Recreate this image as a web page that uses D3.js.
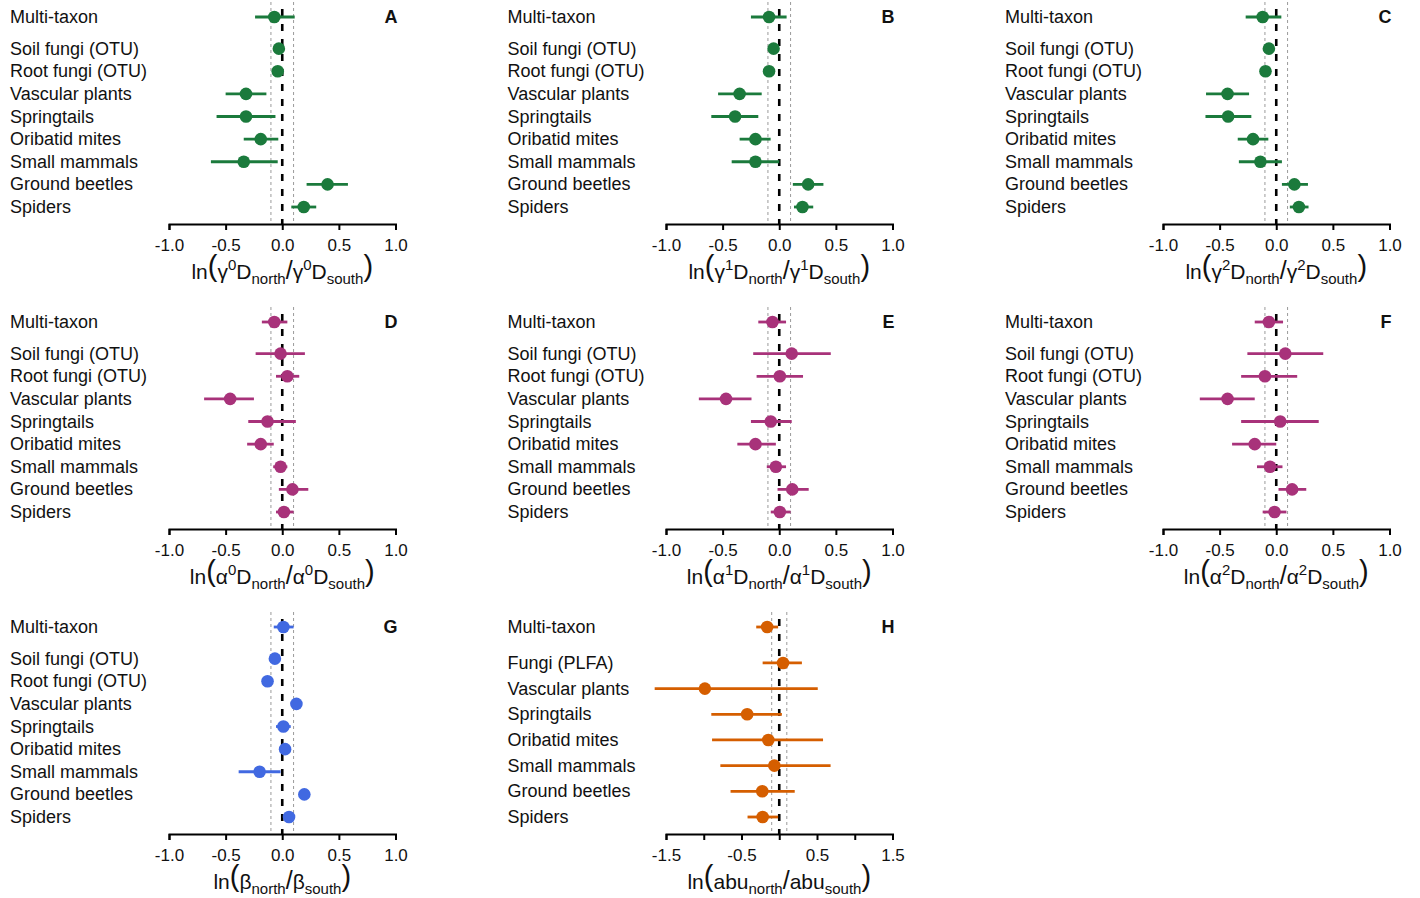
<!DOCTYPE html>
<html>
<head>
<meta charset="utf-8">
<script src="https://cdn.jsdelivr.net/npm/d3@7"></script>
<style>
  body { margin: 0; background: #fff; }
  svg { font-family: "Liberation Sans", Arial, sans-serif; }
</style>
</head>
<body>
<div id="chart"></div>
<script>
// taxa (rows, top to bottom)
const taxa = ["Multi-taxon", "Soil fungi (OTU)", "Root fungi (OTU)", "Vascular plants", "Springtails",
  "Oribatid mites", "Small mammals", "Ground beetles", "Spiders"];
const taxaAbu = ["Multi-taxon", "Fungi (PLFA)", "Vascular plants", "Springtails", "Oribatid mites",
  "Small mammals", "Ground beetles", "Spiders"];

// A: gamma 0
const g0Est = [-0.07, -0.03, -0.04, -0.32, -0.32, -0.19, -0.34, 0.40, 0.19];
const g0Lo  = [-0.24, -0.05, -0.06, -0.50, -0.58, -0.34, -0.63, 0.215, 0.08];
const g0Hi  = [0.11, -0.01, -0.02, -0.14, -0.06, -0.035, -0.04, 0.58, 0.30];
// B: gamma 1
const g1Est = [-0.09, -0.05, -0.09, -0.35, -0.39, -0.21, -0.21, 0.255, 0.205];
const g1Lo  = [-0.25, -0.07, -0.11, -0.54, -0.60, -0.35, -0.42, 0.12, 0.13];
const g1Hi  = [0.065, -0.03, -0.07, -0.155, -0.185, -0.076, 0.0, 0.39, 0.30];
// C: gamma 2
const g2Est = [-0.12, -0.065, -0.095, -0.43, -0.425, -0.205, -0.14, 0.16, 0.20];
const g2Lo  = [-0.27, -0.085, -0.115, -0.62, -0.625, -0.34, -0.33, 0.05, 0.12];
const g2Hi  = [0.045, -0.045, -0.075, -0.24, -0.22, -0.07, 0.05, 0.28, 0.285];
// D: alpha 0
const a0Est = [-0.07, -0.015, 0.045, -0.46, -0.13, -0.19, -0.015, 0.09, 0.015];
const a0Lo  = [-0.18, -0.235, -0.055, -0.69, -0.30, -0.31, -0.08, -0.03, -0.055];
const a0Hi  = [0.045, 0.20, 0.15, -0.25, 0.12, -0.075, 0.045, 0.23, 0.10];
// E: alpha 1
const a1Est = [-0.06, 0.11, 0.005, -0.47, -0.075, -0.21, -0.03, 0.115, 0.005];
const a1Lo  = [-0.185, -0.23, -0.20, -0.71, -0.25, -0.37, -0.11, -0.015, -0.075];
const a1Hi  = [0.06, 0.455, 0.21, -0.245, 0.11, -0.03, 0.06, 0.26, 0.10];
// F: alpha 2
const a2Est = [-0.065, 0.08, -0.10, -0.43, 0.035, -0.19, -0.055, 0.14, -0.015];
const a2Lo  = [-0.19, -0.255, -0.31, -0.675, -0.31, -0.39, -0.17, 0.02, -0.12];
const a2Hi  = [0.06, 0.415, 0.185, -0.19, 0.375, 0.0, 0.055, 0.265, 0.09];
// G: beta
const bEst = [0.01, -0.065, -0.13, 0.125, 0.01, 0.025, -0.20, 0.195, 0.06];
const bLo  = [-0.075, -0.08, -0.15, 0.11, -0.055, 0.005, -0.385, 0.18, 0.04];
const bHi  = [0.10, -0.05, -0.11, 0.14, 0.075, 0.045, -0.015, 0.21, 0.08];
// H: abundance
const abuEst = [-0.16, 0.05, -0.985, -0.425, -0.145, -0.065, -0.225, -0.22];
const abuLo  = [-0.305, -0.22, -1.65, -0.90, -0.89, -0.78, -0.645, -0.42];
const abuHi  = [-0.015, 0.30, 0.51, 0.035, 0.58, 0.68, 0.205, -0.015];

const ticksStd = [-1, -0.5, 0, 0.5, 1];
const ticksAbu = [-1.5, -1, -0.5, 0, 0.5, 1, 1.5];
const labelsAbu = [-1.5, -0.5, 0.5, 1.5];

const green = "#1b7a3c", magenta = "#a8327a", blue = "#4169e1", orange = "#d55e00";

const panels = [
  { id: "A", col: 0, row: 0, names: taxa, est: g0Est, lo: g0Lo, hi: g0Hi, color: green, sym: "γ", q: "0" },
  { id: "B", col: 1, row: 0, names: taxa, est: g1Est, lo: g1Lo, hi: g1Hi, color: green, sym: "γ", q: "1" },
  { id: "C", col: 2, row: 0, names: taxa, est: g2Est, lo: g2Lo, hi: g2Hi, color: green, sym: "γ", q: "2" },
  { id: "D", col: 0, row: 1, names: taxa, est: a0Est, lo: a0Lo, hi: a0Hi, color: magenta, sym: "α", q: "0" },
  { id: "E", col: 1, row: 1, names: taxa, est: a1Est, lo: a1Lo, hi: a1Hi, color: magenta, sym: "α", q: "1" },
  { id: "F", col: 2, row: 1, names: taxa, est: a2Est, lo: a2Lo, hi: a2Hi, color: magenta, sym: "α", q: "2" },
  { id: "G", col: 0, row: 2, names: taxa, est: bEst, lo: bLo, hi: bHi, color: blue, sym: "β", q: null },
  { id: "H", col: 1, row: 2, names: taxaAbu, est: abuEst, lo: abuLo, hi: abuHi, color: orange, sym: "abu", q: null, abu: true }
];

const W = 1420, H = 898;
const svg = d3.select("#chart").append("svg").attr("width", W).attr("height", H);

panels.forEach(p => {
  const ox = 497 * p.col, oy = 305 * p.row;
  const x0 = 169 + ox, x1 = 395.5 + ox;
  const top = 17 + oy, bottom = 207 + oy, axisY = 224 + oy;
  const labelX = 10 + 497.5 * p.col;

  const x = d3.scaleLinear().domain(p.abu ? [-1.5, 1.5] : [-1, 1]).range([x0, x1]);
  // multi-taxon row is separated from the rest by a slightly larger gap
  const pos = p.names.map((d, i) => i === 0 ? 0 : i + 0.4);
  const y = d3.scaleLinear().domain([0, d3.max(pos)]).range([top, bottom]);

  const g = svg.append("g");

  // reference lines
  [-0.1, 0.1].forEach(v => {
    g.append("line").attr("x1", x(v)).attr("x2", x(v)).attr("y1", top - 15).attr("y2", axisY)
      .attr("stroke", "#9a9a9a").attr("stroke-width", 1).attr("stroke-dasharray", "3,3");
  });
  g.append("line").attr("x1", x(0)).attr("x2", x(0)).attr("y1", top - 8).attr("y2", axisY)
    .attr("stroke", "#000").attr("stroke-width", 2.6).attr("stroke-dasharray", "7,8");

  // row labels
  g.selectAll("text.lab").data(p.names).join("text").attr("class", "lab")
    .attr("x", labelX).attr("y", (d, i) => y(pos[i]))
    .attr("dominant-baseline", "central")
    .attr("font-size", 18).attr("fill", "#111").text(d => d);

  // error bars + points
  g.selectAll("line.err").data(p.est).join("line").attr("class", "err")
    .attr("x1", (d, i) => x(p.lo[i])).attr("x2", (d, i) => x(p.hi[i]))
    .attr("y1", (d, i) => y(pos[i])).attr("y2", (d, i) => y(pos[i]))
    .attr("stroke", p.color).attr("stroke-width", 2.8);
  g.selectAll("circle").data(p.est).join("circle")
    .attr("cx", d => x(d)).attr("cy", (d, i) => y(pos[i])).attr("r", 6.3)
    .attr("fill", p.color);

  // x axis
  const axis = d3.axisBottom(x)
    .tickValues(p.abu ? ticksAbu : ticksStd)
    .tickSize(6).tickPadding(9)
    .tickFormat(d => p.abu ? (labelsAbu.includes(d) ? d.toFixed(1) : "") : d.toFixed(1));
  const ag = g.append("g").attr("transform", `translate(0,${axisY})`).call(axis);
  ag.select(".domain").attr("stroke", "#000").attr("stroke-width", 2);
  ag.selectAll(".tick line").attr("stroke", "#000").attr("stroke-width", 2);
  ag.selectAll(".tick text").attr("font-size", 17).attr("fill", "#111")
    .attr("font-family", "Liberation Sans, Arial, sans-serif");

  // panel letter
  g.append("text").attr("x", x1 + 2).attr("y", top + 6).attr("text-anchor", "end")
    .attr("font-size", 18).attr("font-weight", "bold").attr("fill", "#111").text(p.id);

  // axis title, baseline offsets tracked so tspans return to the main line
  const t = g.append("text").attr("x", (x0 + x1) / 2).attr("y", axisY + 55)
    .attr("text-anchor", "middle").attr("fill", "#111").attr("font-size", 21);
  let cur = 0;
  const part = (s, size, off) => {
    t.append("tspan").attr("font-size", size).attr("dy", off - cur).text(s);
    cur = off;
  };
  part("ln", 21, 0);
  part("(", 29, -3);
  const half = sub => {
    part(p.sym, 21, 0);
    if (p.q !== null) {
      part(p.q, 15, -9);
      part("D", 21, 0);
    }
    part(sub, 15, 5);
  };
  half("north");
  part("/", 25, 0);
  half("south");
  part(")", 29, -3);
});
</script>
</body>
</html>
